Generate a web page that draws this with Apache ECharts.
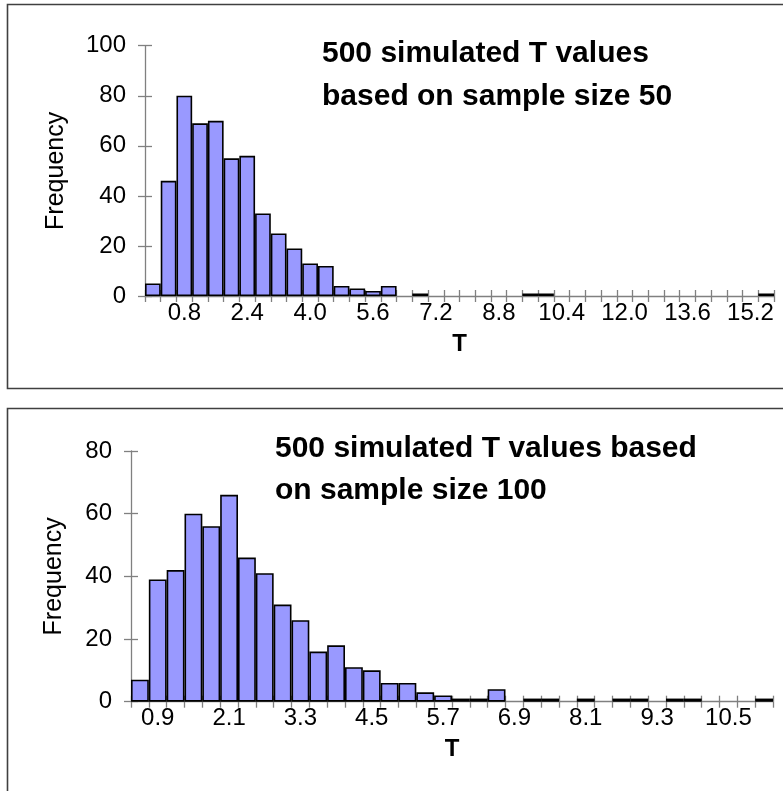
<!DOCTYPE html>
<html>
<head>
<meta charset="utf-8">
<script src="https://cdn.jsdelivr.net/npm/echarts@6/dist/echarts.min.js"></script>
<style>
html,body{margin:0;padding:0;background:#fff;}
#chart{width:783px;height:791px;}
</style>
</head>
<body>
<div id="chart"></div>
<script>
// Top histogram: bin centres (width 0.4) and counts, sample size 50
var topBins = ['0.0','0.4','0.8','1.2','1.6','2.0','2.4','2.8','3.2','3.6','4.0','4.4','4.8','5.2','5.6','6.0','6.4','6.8','7.2','7.6','8.0','8.4','8.8','9.2','9.6','10.0','10.4','10.8','11.2','11.6','12.0','12.4','12.8','13.2','13.6','14.0','14.4','14.8','15.2','15.6'];
var topCounts = [5,46,80,69,70,55,56,33,25,19,13,12,4,3,2,4,0,1,0,0,0,0,0,0,1,1,0,0,0,0,0,0,0,0,0,0,0,0,0,1];
var topYTicks = [0,20,40,60,80,100];
var topTitle = ['500 simulated T values','based on sample size 50'];

// Bottom histogram: bin centres (width 0.3) and counts, sample size 100
var botBins = ['0.6','0.9','1.2','1.5','1.8','2.1','2.4','2.7','3.0','3.3','3.6','3.9','4.2','4.5','4.8','5.1','5.4','5.7','6.0','6.3','6.6','6.9','7.2','7.5','7.8','8.1','8.4','8.7','9.0','9.3','9.6','9.9','10.2','10.5','10.8','11.1'];
var botCounts = [7,39,42,60,56,66,46,41,31,26,16,18,11,10,6,6,3,2,1,1,4,0,1,1,0,1,0,1,1,0,1,1,0,0,0,1];
var botYTicks = [0,20,40,60,80];
var botTitle = ['500 simulated T values based','on sample size 100'];

var xName = 'T';
var yName = 'Frequency';

var FONT = '"Liberation Sans", Arial, sans-serif';
var AXIS_GREY = '#808080';

function nz(arr){ return arr.map(function(v){ return v === 0 ? null : v; }); }

function xAxes(grid, cats, labelMod){
  return [
    {
      type:'category', gridIndex:grid, data:cats, position:'bottom',
      axisLine:{show:true, onZero:true, lineStyle:{color:AXIS_GREY, width:1.3}},
      axisTick:{show:true, interval:0, length:6, lineStyle:{color:AXIS_GREY, width:1.3}},
      axisLabel:{show:true, interval:function(i){ return i % 4 === labelMod; }, margin:5,
        fontFamily:FONT, fontSize:24, color:'#000', hideOverlap:false},
      name:xName, nameLocation:'middle', nameGap:36,
      nameTextStyle:{fontFamily:FONT, fontSize:24, fontWeight:'bold', color:'#000'},
      splitLine:{show:false}
    },
    {
      type:'category', gridIndex:grid, data:cats, position:'bottom',
      axisLine:{show:false},
      axisTick:{show:true, inside:true, interval:0, length:6, lineStyle:{color:AXIS_GREY, width:1.3}},
      axisLabel:{show:false}, splitLine:{show:false}
    }
  ];
}

function yAxes(grid, ticks, gap){
  var mx = ticks[ticks.length-1];
  var iv = ticks[1]-ticks[0];
  return [
    {
      type:'value', gridIndex:grid, min:ticks[0], max:mx, interval:iv, position:'left',
      axisLine:{show:true, lineStyle:{color:AXIS_GREY, width:1.3}},
      axisTick:{show:true, length:7, lineStyle:{color:AXIS_GREY, width:1.3}},
      axisLabel:{margin:19, fontFamily:FONT, fontSize:24, color:'#000'},
      splitLine:{show:false},
      name:yName, nameLocation:'middle', nameGap:gap,
      nameTextStyle:{fontFamily:FONT, fontSize:25, color:'#000'}
    },
    {
      type:'value', gridIndex:grid, min:ticks[0], max:mx, interval:iv, position:'left',
      axisLine:{show:false},
      axisTick:{show:true, inside:true, length:7, lineStyle:{color:AXIS_GREY, width:1.3}},
      axisLabel:{show:false}, splitLine:{show:false}
    }
  ];
}

var chart = echarts.init(document.getElementById('chart'), null, {renderer:'canvas'});
chart.setOption({
  animation:false,
  backgroundColor:'#fff',
  title:[
    {text:topTitle.join('\n'), left:317, top:27,
      textStyle:{fontFamily:FONT, fontSize:30, fontWeight:'bold', color:'#000', lineHeight:43}},
    {text:botTitle.join('\n'), left:270, top:423,
      textStyle:{fontFamily:FONT, fontSize:30, fontWeight:'bold', color:'#000', lineHeight:42}}
  ],
  graphic:[
    {type:'rect', shape:{x:7.5, y:4.5, width:800, height:384}, style:{fill:null, stroke:'#404040', lineWidth:1.6}, silent:true},
    {type:'rect', shape:{x:7.5, y:408.5, width:800, height:420}, style:{fill:null, stroke:'#404040', lineWidth:1.6}, silent:true}
  ],
  grid:[
    {left:145, right:9, top:45.7, height:250.3},
    {left:131, right:10, top:451, height:250.7}
  ],
  xAxis: xAxes(0, topBins, 2).concat(xAxes(1, botBins, 1)),
  yAxis: yAxes(0, topYTicks, 76).concat(yAxes(1, botYTicks, 64)),
  series:[
    {type:'bar', xAxisIndex:0, yAxisIndex:0, data:nz(topCounts), barCategoryGap:'0%',
      itemStyle:{color:'#9999ff', borderColor:'#000', borderWidth:1.6}},
    {type:'bar', xAxisIndex:2, yAxisIndex:2, data:nz(botCounts), barCategoryGap:'0%',
      itemStyle:{color:'#9999ff', borderColor:'#000', borderWidth:1.6}}
  ]
});
</script>
</body>
</html>
